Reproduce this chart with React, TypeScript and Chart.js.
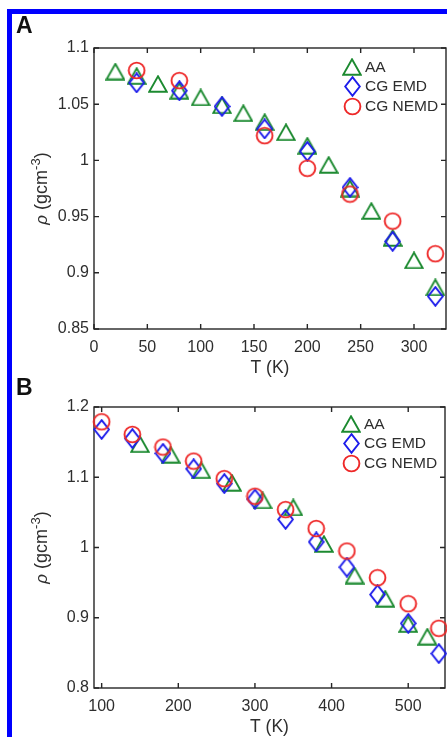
import React, { useEffect, useRef } from 'react';
import { Chart, registerables } from 'chart.js';

Chart.register(...registerables);

const FONT = "'Liberation Sans', Arial, Helvetica, sans-serif";
const TEXT_COLOR = '#2e2e2e';
const AXIS_COLOR = '#262626';
const GREEN = 'rgb(28,138,48)';
const BLUE = 'rgb(28,28,235)';
const RED = 'rgb(238,40,40)';

// ---------- Panel A ----------
const A_AA_T = [20, 40, 60, 80, 100, 120, 140, 160, 180, 200, 220, 240, 260, 280, 300, 320];
const A_AA_RHO = [1.079, 1.075, 1.068, 1.062, 1.056, 1.049, 1.042, 1.034, 1.025, 1.013, 0.996, 0.975, 0.955, 0.931, 0.911, 0.887];
const A_EMD_T = [40, 80, 120, 160, 200, 240, 280, 320];
const A_EMD_RHO = [1.069, 1.062, 1.048, 1.028, 1.008, 0.976, 0.928, 0.879];
const A_NEMD_T = [40, 80, 160, 200, 240, 280, 320];
const A_NEMD_RHO = [1.080, 1.071, 1.022, 0.993, 0.970, 0.946, 0.917];
const A_X_TICKS = [0, 50, 100, 150, 200, 250, 300];
const A_X_LABELS = ['0', '50', '100', '150', '200', '250', '300'];
const A_Y_TICKS = [0.85, 0.9, 0.95, 1, 1.05, 1.1];
const A_Y_LABELS = ['0.85', '0.9', '0.95', '1', '1.05', '1.1'];

// ---------- Panel B ----------
const B_AA_T = [150, 190, 230, 270, 310, 350, 390, 430, 470, 500, 525];
const B_AA_RHO = [1.147, 1.132, 1.110, 1.092, 1.067, 1.057, 1.005, 0.960, 0.927, 0.891, 0.873];
const B_EMD_T = [100, 140, 180, 220, 260, 300, 340, 380, 420, 460, 500, 540];
const B_EMD_RHO = [1.168, 1.155, 1.134, 1.112, 1.091, 1.069, 1.040, 1.008, 0.972, 0.933, 0.892, 0.849];
const B_NEMD_T = [100, 140, 180, 220, 260, 300, 340, 380, 420, 460, 500, 540];
const B_NEMD_RHO = [1.179, 1.161, 1.143, 1.123, 1.098, 1.073, 1.054, 1.027, 0.995, 0.957, 0.920, 0.885];
const B_X_TICKS = [100, 200, 300, 400, 500];
const B_X_LABELS = ['100', '200', '300', '400', '500'];
const B_Y_TICKS = [0.8, 0.9, 1, 1.1, 1.2];
const B_Y_LABELS = ['0.8', '0.9', '1', '1.1', '1.2'];

const SERIES_LABELS = ['AA', 'CG EMD', 'CG NEMD'];
const X_TITLE = 'T (K)';

function zip(xs: number[], ys: number[]) {
  return xs.map((x, i) => ({ x, y: ys[i] }));
}

function makeMarker(kind: 'tri' | 'dia' | 'cir', color: string): HTMLCanvasElement {
  const c = document.createElement('canvas');
  const lw = 1.9;
  let w = 20, h = 18;
  if (kind === 'dia') { w = 17; h = 21; }
  if (kind === 'cir') { w = 19; h = 19; }
  c.width = w; c.height = h;
  const ctx = c.getContext('2d')!;
  ctx.strokeStyle = color;
  ctx.lineWidth = lw;
  ctx.lineJoin = 'miter';
  ctx.beginPath();
  if (kind === 'tri') {
    ctx.moveTo(w / 2, 1.3);
    ctx.lineTo(w - 1.2, h - 1.2);
    ctx.lineTo(1.2, h - 1.2);
    ctx.closePath();
  } else if (kind === 'dia') {
    ctx.moveTo(w / 2, 1.2);
    ctx.lineTo(w - 1.2, h / 2);
    ctx.lineTo(w / 2, h - 1.2);
    ctx.lineTo(1.2, h / 2);
    ctx.closePath();
  } else {
    ctx.arc(w / 2, h / 2, 7.9, 0, Math.PI * 2);
  }
  ctx.stroke();
  return c;
}

const framePlugin = {
  id: 'frame',
  beforeDatasetsDraw(chart: any) {
    const { ctx, chartArea: a, scales } = chart;
    const TL = 5;
    ctx.save();
    ctx.strokeStyle = AXIS_COLOR;
    ctx.lineWidth = 1.4;
    ctx.strokeRect(a.left, a.top, a.right - a.left, a.bottom - a.top);
    ctx.beginPath();
    for (const t of scales.x.ticks) {
      const px = scales.x.getPixelForValue(t.value);
      ctx.moveTo(px, a.bottom); ctx.lineTo(px, a.bottom - TL);
      ctx.moveTo(px, a.top); ctx.lineTo(px, a.top + TL);
    }
    for (const t of scales.y.ticks) {
      const py = scales.y.getPixelForValue(t.value);
      ctx.moveTo(a.left, py); ctx.lineTo(a.left + TL, py);
      ctx.moveTo(a.right, py); ctx.lineTo(a.right - TL, py);
    }
    ctx.stroke();
    ctx.restore();
  },
};

const legendPlugin = {
  id: 'markerLegend',
  afterDatasetsDraw(chart: any, _args: any, opts: any) {
    const { ctx, chartArea: a } = chart;
    ctx.save();
    ctx.font = `15.5px ${FONT}`;
    ctx.fillStyle = TEXT_COLOR;
    ctx.textBaseline = 'middle';
    ctx.textAlign = 'left';
    chart.data.datasets.forEach((ds: any, i: number) => {
      const y = a.top + opts.firstRow + i * opts.rowGap;
      const mx = a.right - opts.markerFromRight;
      const img = ds.pointStyle as HTMLCanvasElement;
      ctx.drawImage(img, Math.round(mx - img.width / 2), Math.round(y - img.height / 2));
      ctx.fillText(ds.label, a.right - opts.textFromRight, y + 0.5);
    });
    ctx.restore();
  },
};

const yTitlePlugin = {
  id: 'yTitle',
  afterDraw(chart: any, _args: any, opts: any) {
    const { ctx, chartArea: a } = chart;
    const cy = (a.top + a.bottom) / 2;
    ctx.save();
    ctx.translate(opts.baselineX, cy);
    ctx.rotate(-Math.PI / 2);
    ctx.fillStyle = TEXT_COLOR;
    ctx.textBaseline = 'alphabetic';
    ctx.textAlign = 'left';
    const parts = [
      { t: 'ρ', f: `italic 17px ${FONT}`, dy: 0 },
      { t: ' (gcm', f: `18px ${FONT}`, dy: 0 },
      { t: '-3', f: `13px ${FONT}`, dy: -7.5 },
      { t: ')', f: `18px ${FONT}`, dy: 0 },
    ];
    let total = 0;
    const widths = parts.map((p) => { ctx.font = p.f; const w = ctx.measureText(p.t).width; total += w; return w; });
    let x = -total / 2;
    parts.forEach((p, i) => { ctx.font = p.f; ctx.fillText(p.t, x, p.dy); x += widths[i]; });
    ctx.restore();
  },
};

interface PanelCfg {
  aaT: number[]; aaRho: number[];
  emdT: number[]; emdRho: number[];
  nemdT: number[]; nemdRho: number[];
  xMin: number; xMax: number; yMin: number; yMax: number;
  xTicks: number[]; xLabels: string[]; yTicks: number[]; yLabels: string[];
  padTop: number; padRight: number; firstRow: number;
}

function buildConfig(cfg: PanelCfg): any {
  const tri = makeMarker('tri', GREEN);
  const dia = makeMarker('dia', BLUE);
  const cir = makeMarker('cir', RED);
  const common = { pointRadius: 9, showLine: false, clip: false as any, pointBorderWidth: 0 };
  return {
    type: 'scatter',
    data: {
      datasets: [
        { label: SERIES_LABELS[0], data: zip(cfg.aaT, cfg.aaRho), pointStyle: tri, order: 2, ...common },
        { label: SERIES_LABELS[1], data: zip(cfg.emdT, cfg.emdRho), pointStyle: dia, order: 1, ...common },
        { label: SERIES_LABELS[2], data: zip(cfg.nemdT, cfg.nemdRho), pointStyle: cir, order: 0, ...common },
      ],
    },
    options: {
      animation: false,
      responsive: false,
      events: [],
      layout: { autoPadding: false, padding: { top: cfg.padTop, right: cfg.padRight, left: 0, bottom: 0 } },
      plugins: {
        legend: { display: false },
        tooltip: { enabled: false },
        markerLegend: { firstRow: cfg.firstRow, rowGap: 19.5, markerFromRight: 94, textFromRight: 81 },
        yTitle: { baselineX: 47 },
      },
      scales: {
        x: {
          type: 'linear', min: cfg.xMin, max: cfg.xMax,
          afterBuildTicks: (s: any) => { s.ticks = cfg.xTicks.map((v) => ({ value: v })); },
          afterFit: (s: any) => { s.height = 49; },
          grid: { display: false, drawTicks: false },
          border: { display: false },
          ticks: {
            padding: 9, color: TEXT_COLOR, font: { size: 16, family: FONT },
            maxRotation: 0, autoSkip: false,
            callback: (_v: any, i: number) => cfg.xLabels[i],
          },
          title: { display: true, text: X_TITLE, color: TEXT_COLOR, font: { size: 17.5, family: FONT }, padding: { top: 0, bottom: -1 } },
        },
        y: {
          type: 'linear', min: cfg.yMin, max: cfg.yMax,
          afterBuildTicks: (s: any) => { s.ticks = cfg.yTicks.map((v) => ({ value: v })); },
          afterFit: (s: any) => { s.width = 94; },
          grid: { display: false, drawTicks: false },
          border: { display: false },
          ticks: {
            padding: 5, color: TEXT_COLOR, font: { size: 16, family: FONT },
            autoSkip: false,
            callback: (_v: any, i: number) => cfg.yLabels[i],
          },
        },
      },
    },
    plugins: [framePlugin, legendPlugin, yTitlePlugin],
  };
}

const PANEL_A: PanelCfg = {
  aaT: A_AA_T, aaRho: A_AA_RHO, emdT: A_EMD_T, emdRho: A_EMD_RHO, nemdT: A_NEMD_T, nemdRho: A_NEMD_RHO,
  xMin: 0, xMax: 330, yMin: 0.85, yMax: 1.1,
  xTicks: A_X_TICKS, xLabels: A_X_LABELS, yTicks: A_Y_TICKS, yLabels: A_Y_LABELS,
  padTop: 48, padRight: 1, firstRow: 19,
};

const PANEL_B: PanelCfg = {
  aaT: B_AA_T, aaRho: B_AA_RHO, emdT: B_EMD_T, emdRho: B_EMD_RHO, nemdT: B_NEMD_T, nemdRho: B_NEMD_RHO,
  xMin: 90, xMax: 548, yMin: 0.8, yMax: 1.2,
  xTicks: B_X_TICKS, xLabels: B_X_LABELS, yTicks: B_Y_TICKS, yLabels: B_Y_LABELS,
  padTop: 29, padRight: 2, firstRow: 17,
};

function Panel({ cfg, top, height }: { cfg: PanelCfg; top: number; height: number }) {
  const ref = useRef<HTMLCanvasElement>(null);
  useEffect(() => {
    Chart.defaults.font.family = FONT;
    const chart = new Chart(ref.current as HTMLCanvasElement, buildConfig(cfg));
    return () => chart.destroy();
  }, [cfg]);
  return (
    <canvas
      ref={ref}
      width={447}
      height={height}
      style={{ position: 'absolute', left: 0, top, width: 447, height, display: 'block' }}
    />
  );
}

export default function App() {
  const labelStyle: React.CSSProperties = {
    position: 'absolute', left: 16, fontFamily: FONT, fontWeight: 'bold',
    fontSize: 23, lineHeight: '23px', color: '#111',
  };
  return (
    <div style={{ position: 'absolute', left: 0, top: 0, width: 447, height: 737, overflow: 'hidden', background: '#fff' }}>
      <div style={{
        position: 'absolute', left: 7, top: 9, width: 480, height: 780,
        borderLeft: '5px solid #0000ff', borderTop: '5px solid #0000ff', boxSizing: 'border-box',
      }} />
      <Panel cfg={PANEL_A} top={0} height={378} />
      <Panel cfg={PANEL_B} top={378} height={359} />
      <div style={{ ...labelStyle, top: 14 }}>A</div>
      <div style={{ ...labelStyle, top: 376 }}>B</div>
    </div>
  );
}
